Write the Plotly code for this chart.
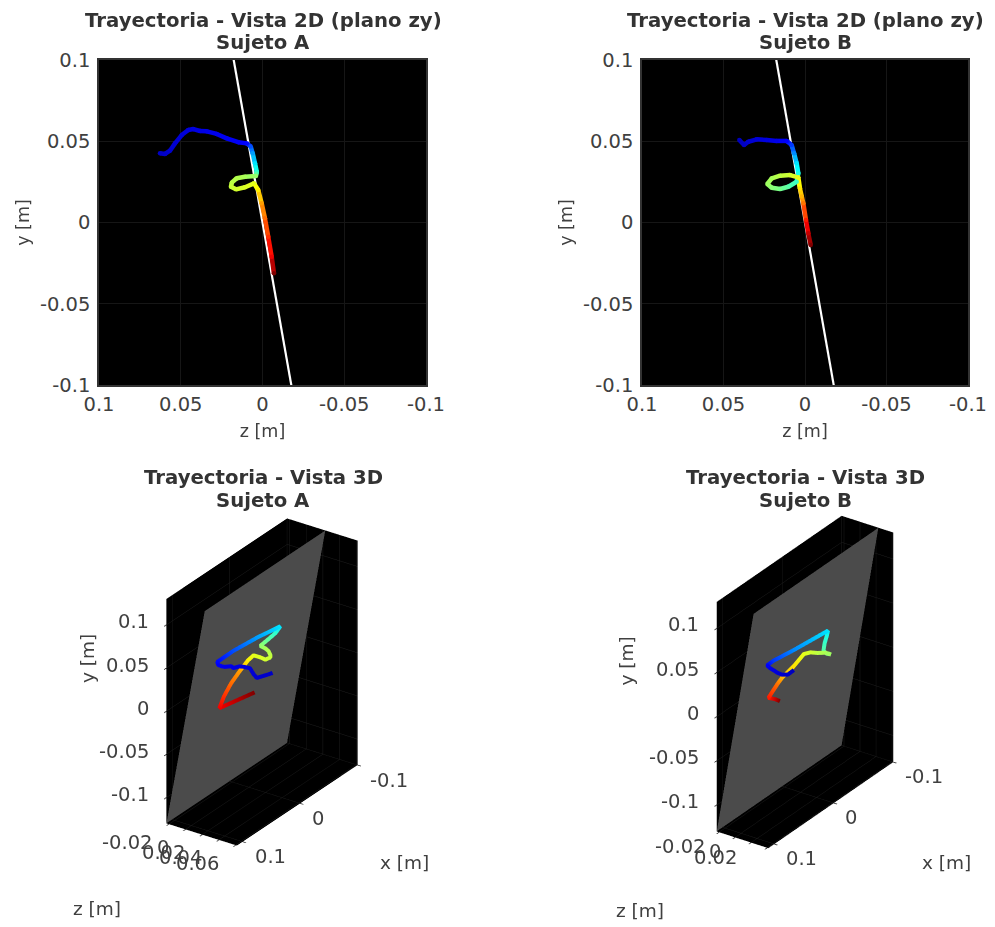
import plotly.graph_objects as go
from plotly.colors import sample_colorscale

# ---------- data ----------
a_x = [.045,.0525,.0684,.0698,.0696,.0754,.0779,.0825,.080,.0823,.0789,.0747,.0689,.0372,-.0056,-.0484,-.0414,-.0291,-.0142,-.0133,-.0116,-.0102,-.0095,-.0053,-.0046,-.0007,.0053,.0168,.0286,.0379,.0432,-.0204]
a_y = [.0426,.0422,.0442,.0487,.0538,.0569,.0575,.0563,.0561,.0545,.0518,.0494,.0487,.0467,.0426,.0364,.0313,.0300,.0286,.0282,.0272,.0245,.0220,.0204,.0217,.0241,.0200,.0118,.0026,-.0087,-.0210,-.0313]
a_z = [.0627,.0596,.0566,.0535,.0494,.0454,.0423,.0382,.0341,.0280,.0219,.0148,.0097,.0072,.0060,.0046,.0035,.0038,.0040,.0107,.0158,.0188,.0193,.0162,.0107,.0052,.0026,.0005,-.0015,-.0035,-.0056,-.0070]
a_t = [.06,.065,.07,.075,.08,.085,.09,.095,.10,.105,.11,.115,.13,.20,.28,.35,.42,.46,.52,.54,.55,.56,.57,.58,.59,.60,.64,.72,.77,.83,.89,1.0]

b_x = [.0656,.0719,.078,.0794,.0769,.0744,.0715,.0564,.0205,-.0393,-.0385,-.0337,-.0247,-.0234,-.0234,-.020,-.0149,-.0076,-.0044,0,.0156,.0339,.04,.0532,.0398,.03]
b_y = [.0508,.0477,.0497,.0512,.0508,.0502,.0502,.0477,.0426,.0364,.0303,.0251,.0220,.0206,.0214,.0237,.0272,.0288,.0292,.0278,.0210,.0160,.0118,.0015,-.0066,-.0138]
b_z = [.0403,.0374,.0348,.0296,.0235,.0174,.0112,.0082,.0067,.0051,.0041,.0051,.0102,.0153,.0204,.0231,.0204,.0153,.0092,.0041,.0031,.0020,.0010,-.0006,-.0020,-.0035]
b_t = [.05,.06,.07,.08,.09,.10,.12,.18,.26,.35,.40,.43,.46,.49,.51,.53,.54,.56,.58,.60,.65,.70,.76,.85,.93,1.0]

plane_y = [-.13, .13]
plane_z = [-.0229, .0229]
x_limits = [-.1, .11]
y_limits = [-.13, .13]
z_limits_a = [-.0229, .0615]
z_limits_b = [-.0229, .0414]

ticks_2d = [-.1, -.05, 0, .05, .1]
tick_text_2d = ['-0.1', '-0.05', '0', '0.05', '0.1']
ticks_x3d = [-.1, 0, .1]
tick_text_x3d = ['-0.1', '0', '0.1']
ticks_z3d_a = [-.02, 0, .02, .04, .06]
tick_text_z3d_a = ['-0.02', '0', '0.02', '0.04', '0.06']
ticks_z3d_b = [-.02, 0, .02, .04]
tick_text_z3d_b = ['-0.02', '0', '0.02', '']

JET = [[0, 'rgb(0,0,143)'], [.125, 'rgb(0,0,255)'], [.375, 'rgb(0,255,255)'],
       [.625, 'rgb(255,255,0)'], [.875, 'rgb(255,0,0)'], [1, 'rgb(128,0,0)']]

W, H = 995, 927
TXT = '#404040'
TICK = 19.5
fig = go.Figure()


def add_2d(zs, ys, ts, xa, ya):
    fig.add_trace(go.Scatter(x=plane_z, y=plane_y, mode='lines', xaxis=xa, yaxis=ya,
                             line=dict(color='white', width=2.2), showlegend=False, hoverinfo='skip'))
    for i in range(len(zs) - 1):
        c = sample_colorscale(JET, [(ts[i] + ts[i + 1]) / 2])[0]
        fig.add_trace(go.Scatter(x=zs[i:i + 2], y=ys[i:i + 2], mode='lines', xaxis=xa, yaxis=ya,
                                 line=dict(color=c, width=4.5), showlegend=False, hoverinfo='skip'))
    fig.add_trace(go.Scatter(x=zs, y=ys, mode='markers', xaxis=xa, yaxis=ya, showlegend=False, hoverinfo='skip',
                             marker=dict(size=4.5, color=ts, colorscale=JET, cmin=0, cmax=1)))


def add_3d(xs, ys, zs, ts, scene, aspect, eye, z_lim):
    # points close to or behind the plane are lifted towards the camera, which
    # leaves their projection unchanged, so that the opaque plane never covers them
    s = .04
    dx = -eye['x'] * s * (x_limits[1] - x_limits[0]) / aspect['x']
    dy = eye['y'] * s * (y_limits[1] - y_limits[0]) / aspect['y']
    dz = eye['z'] * s * (z_lim[1] - z_lim[0]) / aspect['z']
    slope = (plane_z[1] - plane_z[0]) / (plane_y[1] - plane_y[0])
    near = [z < slope * y + .004 for y, z in zip(ys, zs)]
    fig.add_trace(go.Mesh3d(x=[x_limits[0], x_limits[1], x_limits[1], x_limits[0]],
                            y=[plane_y[0], plane_y[0], plane_y[1], plane_y[1]],
                            z=[plane_z[0], plane_z[0], plane_z[1], plane_z[1]],
                            i=[0, 0], j=[1, 2], k=[2, 3], color='#4b4b4b', opacity=1, flatshading=True,
                            lighting=dict(ambient=1, diffuse=0, specular=0, fresnel=0),
                            hoverinfo='skip', showscale=False, scene=scene))
    fig.add_trace(go.Scatter3d(x=[v + dx * n for v, n in zip(xs, near)],
                               y=[v + dy * n for v, n in zip(ys, near)],
                               z=[v + dz * n for v, n in zip(zs, near)],
                               mode='lines', scene=scene, showlegend=False, hoverinfo='skip',
                               line=dict(width=8, color=ts, colorscale=JET, cmin=0, cmax=1)))


k = 1.77
f_a, f_b = 1.052, 1.085
aspect_a = dict(x=f_a * 212 / 251, y=f_a, z=f_a * 85 / 251)
aspect_b = dict(x=f_b * 219 / 258, y=f_b, z=f_b * 62 / 258)
dir_a = dict(x=-.733, y=.458, z=.503)
dir_b = dict(x=-.727, y=.472, z=.498)
eye_a = {c: v * k for c, v in dir_a.items()}
eye_b = {c: v * k for c, v in dir_b.items()}

add_2d(a_z, a_y, a_t, 'x', 'y')
add_2d(b_z, b_y, b_t, 'x2', 'y2')
add_3d(a_x, a_y, a_z, a_t, 'scene', aspect_a, dir_a, z_limits_a)
add_3d(b_x, b_y, b_z, b_t, 'scene2', aspect_b, dir_b, z_limits_b)


def ax2d(dom, ticklen):
    return dict(domain=dom, showgrid=True, gridcolor='#161616', gridwidth=1, zeroline=False,
                showline=True, linecolor='#333333', linewidth=1.5, mirror=True,
                ticks='outside', ticklen=ticklen, tickcolor='rgba(0,0,0,0)', tickmode='array',
                tickvals=ticks_2d, ticktext=tick_text_2d,
                tickfont=dict(family='DejaVu Sans', size=TICK, color=TXT))


def x2d(left, right):
    d = ax2d([left / W, right / W], 1)
    d.update(range=[.1, -.1], title=dict(text='z [m]', font=dict(family='DejaVu Sans', size=17.5, color=TXT), standoff=10))
    return d


def y2d():
    d = ax2d([1 - 385 / H, 1 - 60 / H], 3)
    d.update(range=[-.1, .1], title=dict(text='y [m]', font=dict(family='DejaVu Sans', size=17.5, color=TXT), standoff=6))
    return d


def ax3d(rng, vals, text):
    # the scene's own tick marks stay; their labels are invisible here and set
    # as scene annotations below, at the offsets of the reference
    return dict(range=rng, tickmode='array', tickvals=vals, ticktext=text, title=dict(text=''), tickangle=0,
                showbackground=True, backgroundcolor='black', gridcolor='#1e1e1e', gridwidth=1,
                zeroline=False, showline=False, showspikes=False, ticks='outside', tickcolor='#303030',
                ticklen=4, tickwidth=2, showticklabels=True,
                tickfont=dict(family='DejaVu Sans', size=8, color='rgba(255,255,255,0)'))


def tick_note(x, y, z, text, anchor, xshift, yshift):
    return dict(x=x, y=y, z=z, text=text, showarrow=False, xanchor=anchor, yanchor='middle',
                xshift=xshift, yshift=yshift, font=dict(family='DejaVu Sans', size=TICK, color=TXT))


def tick_labels(z_lim, z_vals, z_text, z_shift):
    notes = []
    for v, t in zip(ticks_2d, tick_text_2d):
        notes.append(tick_note(x_limits[1], v, z_lim[0], t, 'right', -15, 3))
    for v, t in zip(ticks_x3d, tick_text_x3d):
        notes.append(tick_note(v, y_limits[0], z_lim[1], t, 'left', 10, -15))
    for v, t in zip(z_vals, z_text):
        if t:
            notes.append(tick_note(x_limits[1], y_limits[0], v, t, 'right', z_shift[0], z_shift[1]))
    return notes


def scene(cx, cy, xa, za, aspect, eye, notes):
    hw, hh = 190, 240
    return dict(domain=dict(x=[(cx - hw) / W, (cx + hw) / W], y=[1 - (cy + hh) / H, 1 - (cy - hh) / H]),
                xaxis=xa, yaxis=ax3d(y_limits, ticks_2d, tick_text_2d), zaxis=za,
                aspectmode='manual', aspectratio=aspect, annotations=notes,
                camera=dict(projection=dict(type='orthographic'), up=dict(x=0, y=1, z=0),
                            center=dict(x=0, y=0, z=0), eye=eye),
                bgcolor='white')


fig.update_layout(
    width=W, height=H, autosize=False, margin=dict(l=0, r=0, t=0, b=0, autoexpand=False),
    paper_bgcolor='white', plot_bgcolor='black', showlegend=False,
    font=dict(family='DejaVu Sans', color=TXT),
    xaxis=x2d(99, 426), yaxis=y2d(),
    xaxis2=x2d(642, 968), yaxis2=dict(y2d(), anchor='x2'),
    scene=scene(262, 682, ax3d([x_limits[1], x_limits[0]], ticks_x3d, tick_text_x3d),
                ax3d(z_limits_a, ticks_z3d_a, tick_text_z3d_a), aspect_a, eye_a,
                tick_labels(z_limits_a, ticks_z3d_a, tick_text_z3d_a, (-15, -18))),
    scene2=scene(804.5, 681.5, ax3d([x_limits[1], x_limits[0]], ticks_x3d, tick_text_x3d),
                 ax3d(z_limits_b, ticks_z3d_b, tick_text_z3d_b), aspect_b, eye_b,
                 tick_labels(z_limits_b, ticks_z3d_b, tick_text_z3d_b, (-12, -15))),
)
fig.update_xaxes(anchor='y', matches=None)
fig.layout.xaxis2.anchor = 'y2'


def label(px, py, text, size=18.5, bold=False, color=TXT):
    fig.add_annotation(x=px / W, y=1 - py / H, xref='paper', yref='paper', text=f'<b>{text}</b>' if bold else text,
                       showarrow=False, xanchor='center', yanchor='middle',
                       font=dict(family='DejaVu Sans', size=size, color=color))


for cx, s in ((263, 'A'), (805, 'B')):
    label(cx, 20, 'Trayectoria - Vista 2D (plano zy)', 19.7, True, '#333333')
    label(cx, 42, f'Sujeto {s}', 19.7, True, '#333333')
    label(cx, 477, 'Trayectoria - Vista 3D', 19.7, True, '#333333')
    label(cx, 500, f'Sujeto {s}', 19.7, True, '#333333')
label(404, 862, 'x [m]')
label(97, 908, 'z [m]')
fig.add_annotation(x=75 / W, y=1 - 685 / H, xref='paper', yref='paper', text='y [m]', textangle=-90, showarrow=False,
                   font=dict(family='DejaVu Sans', size=18.5, color=TXT))
label(946, 862, 'x [m]')
label(640, 910, 'z [m]')
fig.add_annotation(x=626 / W, y=1 - 688 / H, xref='paper', yref='paper', text='y [m]', textangle=-90, showarrow=False,
                   font=dict(family='DejaVu Sans', size=18.5, color=TXT))

fig.write_html('out.html', post_script="document.body.style.margin='0';", config=dict(displayModeBar=False))
